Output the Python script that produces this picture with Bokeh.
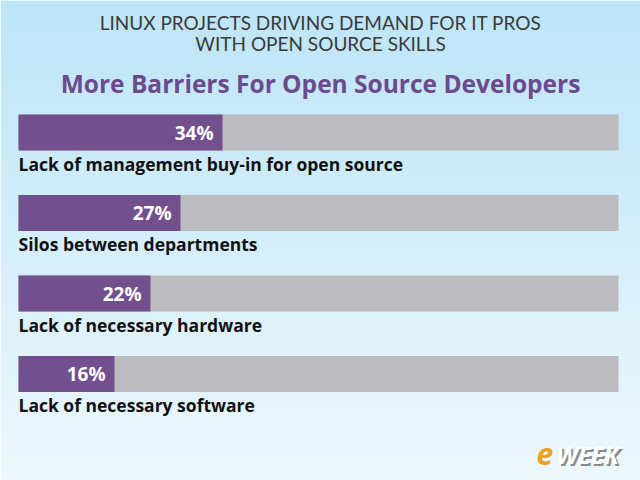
import numpy as np
from bokeh.plotting import figure
from bokeh.models import Range1d, Label, ColumnDataSource
from bokeh.core.properties import value
from bokeh.embed import file_html
from bokeh.resources import INLINE

title_lines = ["LINUX PROJECTS DRIVING DEMAND FOR IT PROS", "WITH OPEN SOURCE SKILLS"]
subtitle = "More Barriers For Open Source Developers"
categories = ["Lack of management buy-in for open source",
              "Silos between departments",
              "Lack of necessary hardware",
              "Lack of necessary software"]
percents = [34, 27, 22, 16]

W, H = 640, 480
PX_PER_UNIT_X = 6.0
PX_PER_ROW = 80.5
FIRST_CENTER = 132.0

x0 = -18.0 / PX_PER_UNIT_X
x1 = x0 + W / PX_PER_UNIT_X
ytop = -FIRST_CENTER / PX_PER_ROW
ybot = ytop + H / PX_PER_ROW

p = figure(width=W, height=H, output_backend="svg", toolbar_location=None,
           x_range=Range1d(x0, x1), y_range=Range1d(ybot, ytop),
           min_border=0, border_fill_color=None)
p.axis.visible = False
p.grid.visible = False
p.outline_line_color = None

# background vertical gradient
rows = 240
top = np.array([189, 229, 248])
bot = np.array([238, 248, 253])
t = np.linspace(0, 1, rows)[:, None]
cols = (top * (1 - t) + bot * t).astype(np.uint32)
img = np.empty((rows, 1), dtype=np.uint32)
view = img.view(dtype=np.uint8).reshape((rows, 1, 4))
view[:, 0, 0] = cols[:, 0]
view[:, 0, 1] = cols[:, 1]
view[:, 0, 2] = cols[:, 2]
view[:, 0, 3] = 255
p.image_rgba(image=[img], x=x0, y=ytop, dw=x1 - x0, dh=ybot - ytop)

ys = list(range(len(categories)))
src = ColumnDataSource(dict(y=ys, pct=percents, full=[100] * len(ys),
                            lab=[f"{v}%" for v in percents], cat=categories))
bh = 36.0 / PX_PER_ROW
p.hbar(y="y", left=0, right="full", height=bh, source=src, fill_color="#bcbcbf", line_color=None)
p.hbar(y="y", left=0, right="pct", height=bh, source=src, fill_color="#724f8d", line_color=None)

p.text(x="pct", y="y", text="lab", source=src, x_offset=-9, text_align="right",
       text_baseline="middle", text_color="white", text_font=value("Open Sans"),
       text_font_style="bold", text_font_size="19px")
p.text(x=0, y="y", text="cat", source=src, y_offset=bh * PX_PER_ROW / 2 + 1,
       text_align="left", text_baseline="top", text_color="#111111",
       text_font=value("Open Sans"), text_font_style="bold", text_font_size="17.5px")

# titles
p.add_layout(Label(x=320, y=H - 22, x_units="screen", y_units="screen", text=title_lines[0],
                   text_align="center", text_baseline="middle", text_color="#3a3a3a",
                   text_font="Lato", text_font_size="19px"))
p.add_layout(Label(x=320, y=H - 43, x_units="screen", y_units="screen", text=title_lines[1],
                   text_align="center", text_baseline="middle", text_color="#3a3a3a",
                   text_font="Lato", text_font_size="19px"))
p.add_layout(Label(x=320, y=H - 83, x_units="screen", y_units="screen", text=subtitle,
                   text_align="center", text_baseline="middle", text_color="#6b4b8c",
                   text_font="Open Sans", text_font_style="bold", text_font_size="24.5px"))

# eWEEK logo
p.add_layout(Label(x=558, y=H - 456, x_units="screen", y_units="screen", text="WEEK",
                   text_align="left", text_baseline="middle", text_color="#8a8a8a",
                   text_font="Open Sans", text_font_style="bold italic", text_font_size="24px"))
p.add_layout(Label(x=556, y=H - 454, x_units="screen", y_units="screen", text="WEEK",
                   text_align="left", text_baseline="middle", text_color="white",
                   text_font="Open Sans", text_font_style="bold italic", text_font_size="24px"))
p.add_layout(Label(x=536, y=H - 453, x_units="screen", y_units="screen", text="e",
                   text_align="left", text_baseline="middle", text_color="#e8a21c",
                   text_font="Open Sans", text_font_style="bold italic", text_font_size="30px"))

open("out.html", "w").write(file_html(p, INLINE))
